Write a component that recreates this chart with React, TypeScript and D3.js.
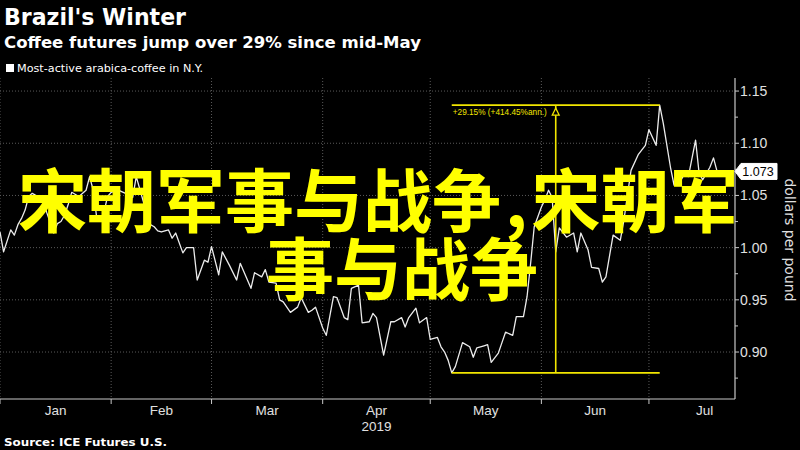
import React from "react";
import * as d3 from "d3";

// ---- data (day offsets from 2019-01-01, price in $/lb) ----
const tradeDays = [0,1,3,4,5,6,7,8,9,11,12,13,15,16,17,18,19,20,22,24,25,26,27,28,29,30,31,33,35,37,38,40,41,43,44,45,47,48,49,51,52,54,55,57,58,59,61,62,64,66,67,70,71,73,74,75,77,78,79,81,83,84,86,87,88,90,91,93,94,96,97,98,100,101,103,104,105,107,109,110,112,113,114,116,117,119,120,122,123,124,125,126,127,129,131,132,133,135,136,137,139,140,141,143,144,146,147,148,149,151,152,153,154,155,156,158,160,161,162,164,165,167,168,169,171,173,174,176,178,180,181,183,184,185,187,188,190,191,192,194,195,196,198,199,200];
const prices = [1.015,0.996,1.017,1.012,1.022,1.028,1.036,1.049,1.052,1.048,1.049,1.034,1.014,1.023,1.025,1.031,1.041,1.053,1.049,1.055,1.068,1.055,1.028,1.026,1.034,1.049,1.053,1.055,1.052,1.048,1.068,1.044,1.024,1.020,1.016,1.015,1.017,1.009,1.014,0.995,1.000,1.000,0.969,0.988,0.986,1.001,0.974,0.996,0.983,0.969,0.985,0.961,0.976,0.972,0.979,0.967,0.966,0.950,0.948,0.938,0.943,0.952,0.938,0.940,0.943,0.923,0.916,0.953,0.952,0.933,0.931,0.961,0.964,0.928,0.929,0.937,0.933,0.897,0.929,0.929,0.933,0.924,0.933,0.942,0.928,0.933,0.912,0.914,0.905,0.900,0.892,0.880,0.886,0.909,0.905,0.895,0.904,0.906,0.907,0.890,0.899,0.909,0.919,0.916,0.934,0.934,0.953,0.985,1.020,1.039,1.046,1.055,1.048,0.996,1.019,1.010,1.014,0.996,1.014,0.998,0.981,0.980,0.967,0.972,1.012,1.007,1.026,1.074,1.089,1.098,1.113,1.098,1.1365,1.119,1.077,1.060,1.065,1.071,1.068,1.103,1.071,1.065,1.077,1.086,1.073];
const yTicks = [0.90, 0.95, 1.00, 1.05, 1.10, 1.15];
const monthLabels = ["Jan", "Feb", "Mar", "Apr", "May", "Jun", "Jul"];
const yearLabel = "2019";
const title = "Brazil's Winter";
const subtitle = "Coffee futures jump over 29% since mid-May";
const legendLabel = "Most-active arabica-coffee in N.Y.";
const sourceLabel = "Source: ICE Futures U.S.";
const axisTitle = "dollars per pound";
const measureLabel = "+29.15% (+414.45%ann.)";
const overlayLine1a = "宋朝军事与战争";
const overlayComma = ",";
const overlayLine1b = "宋朝军";
const overlayLine2 = "事与战争";

const TICK_FONT = "'Liberation Sans', Arial, sans-serif";
const HEAD_FONT = "'DejaVu Sans', Verdana, sans-serif";
const CJK_FONT = "'Noto Sans CJK SC', sans-serif";
const YELLOW = "#f2e600";

export default function App() {
  const W = 800, H = 450;
  const L = 0, R = 735, T = 78, B = 399;
  const t0 = new Date(2019, 0, 1);
  const x = d3.scaleTime().domain([t0, new Date(2019, 6, 25)]).range([L, R]);
  const y = d3.scaleLinear().domain([0.855, 1.1625]).range([B, T]);

  const data = tradeDays.map((d, i) => ({ date: d3.timeDay.offset(t0, d), v: prices[i] }));
  const line = d3.line<{ date: Date; v: number }>().x(d => x(d.date)).y(d => y(d.v));

  const monthStarts = d3.timeMonth.range(t0, new Date(2019, 7, 2));
  const months = monthStarts.slice(0, 7).map((m, i) => {
    const next = monthStarts[i + 1];
    return { start: m, mid: new Date((+m + +next) / 2), label: monthLabels[i] };
  });

  const minorTicks = d3.range(35, 47).map(i => i * 0.025).filter(v => Math.abs(Math.round(v * 20) - v * 20) > 1e-6);

  const iMin = d3.minIndex(data, d => d.v);
  const iMax = d3.maxIndex(data, d => d.v);
  const mx0 = x(data[iMin].date), mx1 = x(data[iMax].date);
  const myLow = y(data[iMin].v), myHigh = y(data[iMax].v);
  const mxMid = (mx0 + mx1) / 2;

  const last = data[data.length - 1];
  const ly = y(last.v);

  return (
    <svg width={W} height={H} style={{ position: "absolute", left: 0, top: 0, display: "block" }}>
      <rect x={0} y={0} width={W} height={H} fill="#000" />
      {/* headings */}
      <text x={4} y={25} fill="#fff" fontFamily={HEAD_FONT} fontWeight="bold" fontSize={22.5} textLength={182} lengthAdjust="spacingAndGlyphs">{title}</text>
      <text x={4} y={48} fill="#fff" fontFamily={HEAD_FONT} fontWeight="bold" fontSize={16.5} textLength={417} lengthAdjust="spacingAndGlyphs">{subtitle}</text>
      <rect x={6} y={64} width={8} height={8} fill="#fff" />
      <text x={17} y={72} fill="#fff" fontFamily={HEAD_FONT} fontSize={11} textLength={186} lengthAdjust="spacingAndGlyphs">{legendLabel}</text>

      {/* gridlines */}
      {yTicks.map(v => (
        <line key={"gy" + v} x1={L} x2={R} y1={y(v)} y2={y(v)} stroke="#5a5a5a" strokeWidth={1} strokeDasharray="1 2" />
      ))}
      {months.map(m => (
        <line key={"gx" + m.label} x1={x(m.start)} x2={x(m.start)} y1={T} y2={B} stroke="#5a5a5a" strokeWidth={1} strokeDasharray="1 2" />
      ))}

      {/* axes */}
      <line x1={R} x2={R} y1={T} y2={B} stroke="#c8c8c8" strokeWidth={1.2} />
      <line x1={L} x2={R} y1={B} y2={B} stroke="#c8c8c8" strokeWidth={1.2} />
      {months.map(m => (
        <line key={"tx" + m.label} x1={x(m.start)} x2={x(m.start)} y1={B} y2={B + 5} stroke="#c8c8c8" strokeWidth={1} />
      ))}
      {months.map(m => (
        <text key={"lx" + m.label} x={x(m.mid)} y={415} fill="#e0e0e0" fontFamily={TICK_FONT} fontSize={13.5} textAnchor="middle">{m.label}</text>
      ))}
      <text x={x(months[3].mid)} y={431} fill="#e0e0e0" fontFamily={TICK_FONT} fontSize={13.5} textAnchor="middle">{yearLabel}</text>

      {yTicks.map(v => (
        <g key={"ty" + v}>
          <line x1={R} x2={R + 4} y1={y(v)} y2={y(v)} stroke="#c8c8c8" strokeWidth={1} />
          <text x={740} y={y(v) + 5} fill="#e0e0e0" fontFamily={TICK_FONT} fontSize={14}>{v.toFixed(2)}</text>
        </g>
      ))}
      {minorTicks.map(v => (
        <line key={"my" + v} x1={R} x2={R + 3} y1={y(v)} y2={y(v)} stroke="#c8c8c8" strokeWidth={1} />
      ))}
      <text transform={`translate(785, 240) rotate(90)`} fill="#e0e0e0" fontFamily={HEAD_FONT} fontSize={14} textAnchor="middle">{axisTitle}</text>

      {/* price line */}
      <path d={line(data) || ""} fill="none" stroke="#ececec" strokeWidth={1.3} strokeLinejoin="round" />

      {/* measurement annotation */}
      <line x1={mx0} x2={mx1} y1={myHigh} y2={myHigh} stroke={YELLOW} strokeWidth={1.8} />
      <line x1={mx0} x2={mx1} y1={myLow} y2={myLow} stroke={YELLOW} strokeWidth={1.8} />
      <line x1={mxMid} x2={mxMid} y1={myHigh} y2={myLow} stroke={YELLOW} strokeWidth={1.6} />
      <path d={`M${mxMid},${myHigh + 3} L${mxMid + 3.5},${myHigh + 10} L${mxMid - 3.5},${myHigh + 10} Z`} fill="#000" stroke={YELLOW} strokeWidth={1.2} />
      <text x={mx0 + 1} y={myHigh + 10} fill={YELLOW} fontFamily={TICK_FONT} fontSize={9} textLength={94} lengthAdjust="spacingAndGlyphs">{measureLabel}</text>

      {/* last price tag */}
      <path d={`M${R},${ly} L${R + 6},${ly - 8} H777 V${ly + 8} H${R + 6} Z`} fill="#fff" stroke="#fff" />
      <text x={758} y={ly + 4.5} fill="#000" fontFamily={TICK_FONT} fontSize={12.5} textAnchor="middle">{last.v.toFixed(3)}</text>

      {/* source */}
      <text x={4} y={446} fill="#fff" fontFamily={HEAD_FONT} fontWeight="bold" fontSize={11} textLength={163} lengthAdjust="spacingAndGlyphs">{sourceLabel}</text>

      {/* overlay text */}
      <text x={18} y={227} fill="#ffff00" fontFamily={CJK_FONT} fontWeight="bold" fontSize={69}>
        <tspan>{overlayLine1a}</tspan>
        <tspan dx={4}>{overlayComma}</tspan>
        <tspan dx={4}>{overlayLine1b}</tspan>
      </text>
      <text x={266} y={295} fill="#ffff00" fontFamily={CJK_FONT} fontWeight="bold" fontSize={68}>{overlayLine2}</text>
    </svg>
  );
}
